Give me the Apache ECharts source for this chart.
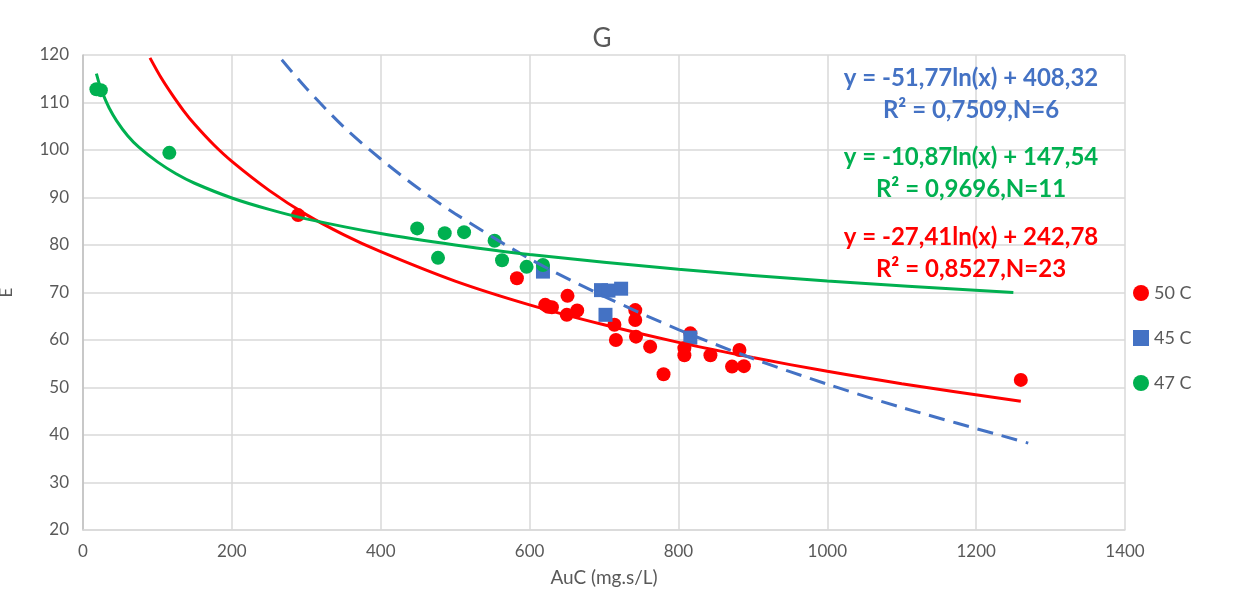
<!DOCTYPE html>
<html lang="en">
<head>
    <meta charset="UTF-8">
    <title>G</title>
    <style>
        html, body {
            margin: 0;
            height: 100%;
            background: #fff;
        }
        #main {
            width: 1242px;
            height: 606px;
        }
    </style>
    <script src="https://cdn.jsdelivr.net/npm/echarts@6/dist/echarts.min.js"></script>
</head>
<body>
    <div id="main"></div>
    <script>
        // measured points, [AuC, E]
        const pts50 = [
            [289, 86.3], [583, 73.0], [621, 67.4], [630, 66.9], [651, 69.3], [650, 65.3],
            [664, 66.2], [714, 63.2], [716, 60.0], [742, 66.3], [742, 64.2], [743, 60.7],
            [762, 58.6], [780, 52.8], [808, 58.3], [808, 56.8], [816, 61.4], [843, 56.8],
            [872, 54.4], [882, 57.9], [888, 54.5], [1260, 51.6], [625, 67.0]
        ]
        const pts45 = [[618, 74.4], [696, 70.5], [706, 70.4], [723, 70.8], [702, 65.3], [816, 60.5]]
        const pts47 = [
            [18, 112.8], [24, 112.6], [116, 99.4], [449, 83.5], [477, 77.3], [486, 82.5],
            [512, 82.7], [553, 80.9], [563, 76.8], [596, 75.4], [618, 75.8]
        ]

        // trendline curves
        const trend50 = [
            [90, 119.4], [105, 115.2], [120, 111.6], [135, 108.3], [150, 105.4], [175, 101.2],
            [200, 97.6], [250, 91.5], [300, 86.4], [350, 82.2], [400, 78.6], [500, 72.4],
            [600, 67.4], [700, 63.2], [800, 59.5], [900, 56.3], [1000, 53.4], [1100, 50.8],
            [1260, 47.1]
        ]
        const trend45 = [
            [267, 119.0], [300, 113.0], [350, 104.9], [400, 98.1], [450, 92.0], [500, 86.6],
            [600, 77.1], [700, 69.2], [800, 62.2], [900, 56.1], [1000, 50.7], [1100, 45.8],
            [1270, 38.3]
        ]
        const trend47 = [
            [18, 116.1], [22, 113.9], [27, 111.7], [35, 108.9], [45, 106.2], [60, 103.0],
            [75, 100.6], [100, 97.5], [125, 95.0], [150, 93.0], [200, 89.9], [250, 87.5],
            [300, 85.5], [400, 82.4], [500, 80.0], [600, 78.0], [800, 74.9], [1000, 72.4],
            [1250, 70.0]
        ]

        const eqBlue = ['y = -51,77ln(x) + 408,32', 'R² = 0,7509,N=6']
        const eqGreen = ['y = -10,87ln(x) + 147,54', 'R² = 0,9696,N=11']
        const eqRed = ['y = -27,41ln(x) + 242,78', 'R² = 0,8527,N=23']

        const RED = '#FF0000', BLUE = '#4472C4', GREEN = '#00B050'
        const FONT = 'Lato, "Open Sans", sans-serif'

        const chart = echarts.init(document.getElementById('main'))

        function eqText (lines, top, color) {
            return lines.map((t, i) => ({
                type: 'text',
                x: 971, y: top + i * 32,
                style: {
                    text: t,
                    fill: color,
                    font: 'bold 24px ' + FONT,
                    textAlign: 'center',
                    textVerticalAlign: 'middle'
                },
                z: 10
            }))
        }

        const trendSeries = (name, data, color, dashed) => ({
            name: name,
            type: 'line',
            data: data,
            smooth: 0.3,
            showSymbol: false,
            silent: true,
            z: 5,
            lineStyle: { color: color, width: 3, type: dashed ? [16, 9] : 'solid' }
        })

        chart.setOption({
            animation: false,
            title: {
                text: 'G',
                left: 597, top: 21,
                textAlign: 'center',
                textStyle: { color: '#595959', fontSize: 26, fontWeight: 'normal', fontFamily: FONT }
            },
            grid: { left: 83, right: 117, top: 55, bottom: 76, outerBoundsMode: 'none' },
            legend: {
                orient: 'vertical',
                left: 1128, top: 279,
                itemGap: 27,
                itemWidth: 16, itemHeight: 16,
                textStyle: { color: '#595959', fontSize: 18, fontFamily: FONT },
                data: [
                    { name: '50 C', icon: 'circle' },
                    { name: '45 C', icon: 'rect' },
                    { name: '47 C', icon: 'circle' }
                ]
            },
            xAxis: {
                type: 'value',
                min: 0, max: 1400, interval: 200,
                name: 'AuC (mg.s/L)',
                nameLocation: 'middle',
                nameGap: 38,
                nameTextStyle: { color: '#595959', fontSize: 19, fontFamily: FONT },
                axisLine: { show: true, lineStyle: { color: '#D9D9D9', width: 1.5 } },
                axisTick: { show: false },
                axisLabel: { color: '#595959', fontSize: 17, fontFamily: FONT, margin: 13, formatter: v => String(v) },
                splitLine: { show: true, lineStyle: { color: '#D9D9D9', width: 1.5 } }
            },
            yAxis: {
                type: 'value',
                min: 20, max: 120, interval: 10,
                name: 'E',
                nameLocation: 'middle',
                nameGap: 68,
                nameTextStyle: { color: '#595959', fontSize: 17, fontFamily: FONT },
                axisLine: { show: true, lineStyle: { color: '#BFBFBF', width: 1.5 } },
                axisTick: { show: false },
                axisLabel: { color: '#595959', fontSize: 17, fontFamily: FONT, margin: 14 },
                splitLine: { show: true, lineStyle: { color: '#D9D9D9', width: 1.5 } }
            },
            series: [
                {
                    name: '50 C', type: 'scatter', data: pts50,
                    symbol: 'circle', symbolSize: 14, z: 3,
                    itemStyle: { color: RED, opacity: 1 }
                },
                {
                    name: '45 C', type: 'scatter', data: pts45,
                    symbol: 'rect', symbolSize: 14, z: 3,
                    itemStyle: { color: BLUE, opacity: 1 }
                },
                {
                    name: '47 C', type: 'scatter', data: pts47,
                    symbol: 'circle', symbolSize: 14, z: 3,
                    itemStyle: { color: GREEN, opacity: 1 }
                },
                trendSeries('trend 50', trend50, RED, false),
                trendSeries('trend 45', trend45, BLUE, true),
                trendSeries('trend 47', trend47, GREEN, false)
            ],
            graphic: [].concat(
                eqText(eqBlue, 78, BLUE),
                eqText(eqGreen, 157, GREEN),
                eqText(eqRed, 237, RED)
            )
        })
    </script>
</body>
</html>
